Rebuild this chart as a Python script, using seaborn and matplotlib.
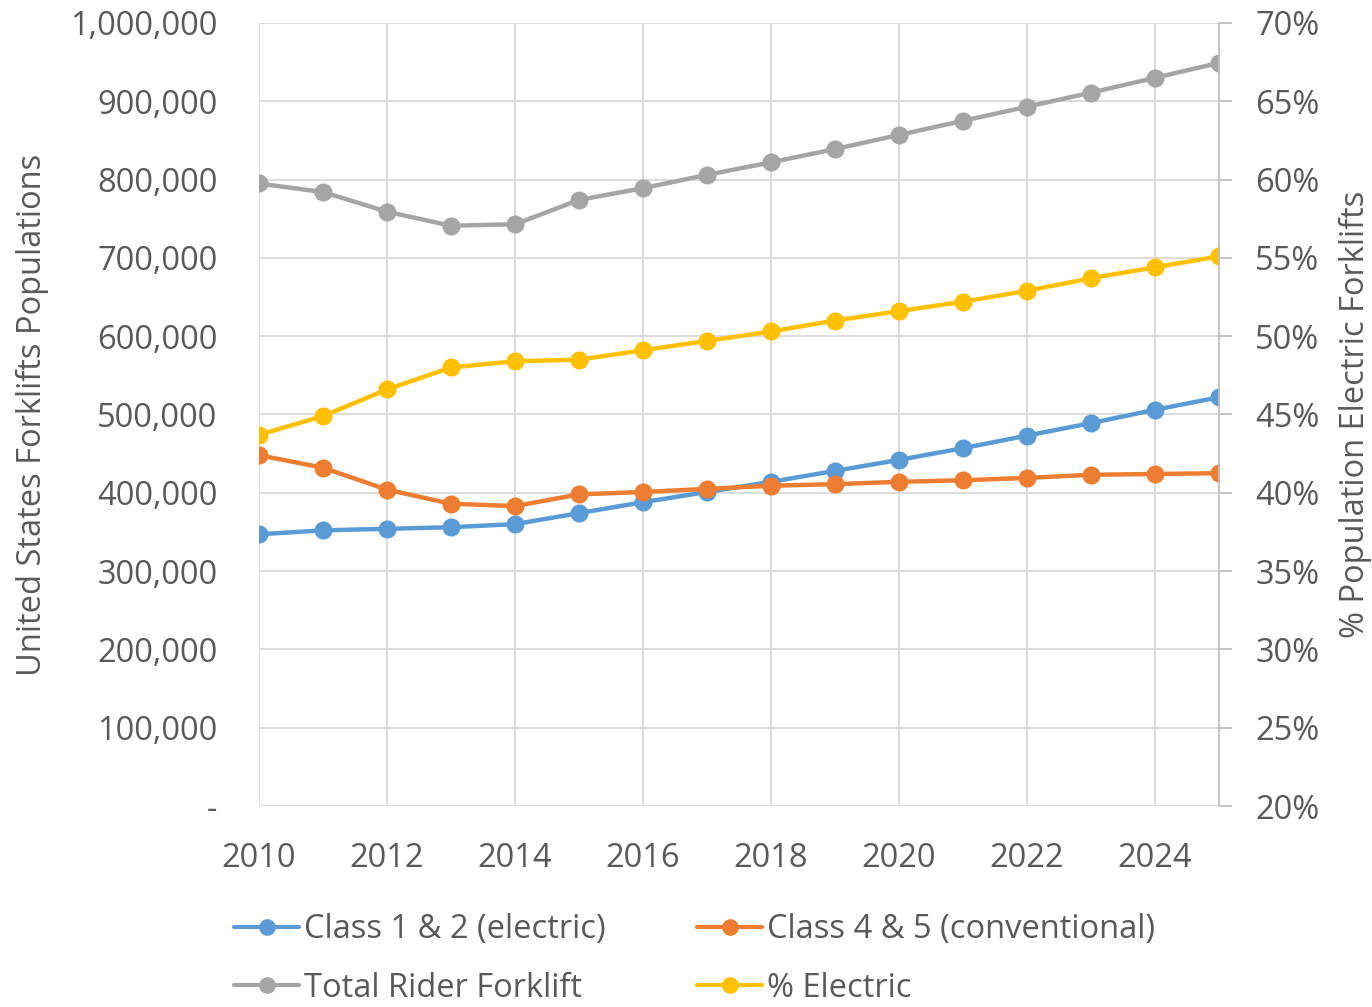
import numpy as np
import pandas as pd
import seaborn as sns
import matplotlib.pyplot as plt
from matplotlib.ticker import FuncFormatter, MultipleLocator

# values
years = list(range(2010, 2026))
class12_electric = [347000, 352000, 354000, 356000, 360000, 374000, 388000, 401000,
                    414000, 428000, 442000, 457000, 473000, 489000, 506000, 522000]
class45_conventional = [448000, 432000, 404000, 386000, 383000, 398000, 401000, 405000,
                        409000, 411000, 414000, 416000, 419000, 423000, 424000, 425000]
total_rider = [795000, 784000, 759000, 741000, 743000, 774000, 789000, 806000,
               822000, 839000, 857000, 875000, 893000, 911000, 930000, 949000]
pct_electric = [43.7, 44.9, 46.6, 48.0, 48.4, 48.5, 49.1, 49.7,
                50.3, 51.0, 51.6, 52.2, 52.9, 53.7, 54.4, 55.1]

series_names = ["Class 1 & 2 (electric)", "Class 4 & 5 (conventional)",
                "Total Rider Forklift", "% Electric"]
colors = ["#5B9BD5", "#ED7D31", "#A5A5A5", "#FFC000"]

sns.set_style("white")
plt.rcParams['font.family'] = ['Open Sans', 'DejaVu Sans']
text_color = "#595959"
grid_color = "#D9D9D9"
fs = 23.5

df = pd.DataFrame({
    "year": years * 3,
    "value": class12_electric + class45_conventional + total_rider,
    "series": ([series_names[0]] * len(years) + [series_names[1]] * len(years)
               + [series_names[2]] * len(years)),
})
df_pct = pd.DataFrame({"year": years, "pct": pct_electric})

fig = plt.figure(figsize=(13.72, 10.07), dpi=100)
ax = fig.add_axes([0.1888, 0.1996, 0.6997, 0.7776])

sns.lineplot(data=df, x="year", y="value", hue="series", palette=colors[:3],
             marker="o", markersize=13, markeredgewidth=0, linewidth=3.2,
             ax=ax, legend=False)

ax2 = ax.twinx()
sns.lineplot(data=df_pct, x="year", y="pct", color=colors[3],
             marker="o", markersize=13, markeredgewidth=0, linewidth=3.2,
             ax=ax2, legend=False)

ax.set_xlim(2010, 2025)
ax.set_ylim(0, 1000000)
ax2.set_ylim(20, 70)
ax.xaxis.set_major_locator(MultipleLocator(2))
ax.yaxis.set_major_locator(MultipleLocator(100000))
ax2.yaxis.set_major_locator(MultipleLocator(5))
ax.yaxis.set_major_formatter(FuncFormatter(lambda v, p: "-" if v == 0 else f"{int(v):,}"))
ax2.yaxis.set_major_formatter(FuncFormatter(lambda v, p: f"{int(round(v))}%"))

ax.grid(True, color=grid_color, linewidth=1.3)
ax.set_axisbelow(True)
for sp in ["top", "left", "bottom"]:
    ax.spines[sp].set_visible(False)
    ax2.spines[sp].set_visible(False)
ax.spines["right"].set_visible(False)
ax2.spines["right"].set_color("#BFBFBF")
ax2.spines["right"].set_linewidth(1.3)

ax.tick_params(axis="y", length=0, labelsize=fs, labelcolor=text_color, pad=30)
ax.tick_params(axis="x", length=0, labelsize=fs, labelcolor=text_color, pad=26)
ax2.tick_params(axis="y", length=9, width=1.3, color="#BFBFBF", direction="out",
                labelsize=fs, labelcolor=text_color, pad=17)

ax.set_xlabel("")
ax.set_ylabel("United States Forklifts Populations", fontsize=fs, color=text_color, labelpad=15)
ax2.set_ylabel("% Population Electric Forklifts", fontsize=fs, color=text_color, labelpad=14)

handles = [plt.Line2D([], [], color=c, marker="o", markersize=12, markeredgewidth=0,
                      linewidth=3) for c in colors]
order = [0, 2, 1, 3]
fig.legend([handles[i] for i in order], [series_names[i] for i in order],
           loc="upper left", bbox_to_anchor=(0.161, 0.106), ncol=2, frameon=False,
           fontsize=fs, handlelength=2.0, handletextpad=0.15, columnspacing=2.8,
           labelspacing=0.78, labelcolor=text_color, borderaxespad=0)

plt.savefig("out.png", dpi=100)
plt.close()
